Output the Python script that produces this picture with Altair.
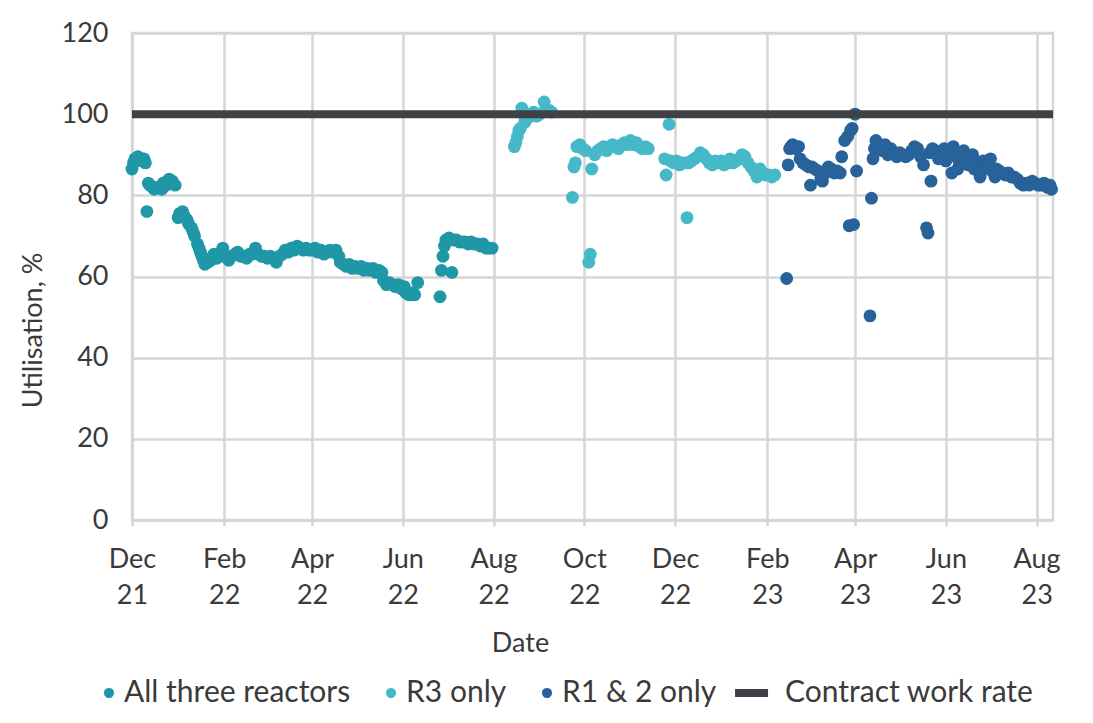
import altair as alt
import pandas as pd

# ---------------- data ----------------
all_three = [
    ("2021-12-01", 86.5), ("2021-12-02", 88), ("2021-12-03", 89), ("2021-12-04", 88.5),
    ("2021-12-05", 89.5), ("2021-12-07", 89), ("2021-12-08", 88.5), ("2021-12-09", 89),
    ("2021-12-10", 88), ("2021-12-11", 76), ("2021-12-12", 83), ("2021-12-13", 82.5),
    ("2021-12-15", 82), ("2021-12-16", 81.5), ("2021-12-18", 82), ("2021-12-20", 82),
    ("2021-12-21", 81.5), ("2021-12-22", 83), ("2021-12-24", 82.5), ("2021-12-25", 83.5),
    ("2021-12-26", 84), ("2021-12-27", 83.5), ("2021-12-28", 83.5), ("2021-12-30", 82.5),
    ("2022-01-01", 74.5), ("2022-01-02", 75.5), ("2022-01-03", 75), ("2022-01-04", 76),
    ("2022-01-05", 75), ("2022-01-07", 74), ("2022-01-08", 73), ("2022-01-10", 72),
    ("2022-01-11", 71), ("2022-01-12", 70), ("2022-01-14", 68), ("2022-01-15", 67),
    ("2022-01-16", 66), ("2022-01-17", 65), ("2022-01-18", 64), ("2022-01-19", 63),
    ("2022-01-21", 63.5), ("2022-01-23", 64), ("2022-01-24", 64.5), ("2022-01-25", 65.5),
    ("2022-01-27", 64.5), ("2022-01-29", 65), ("2022-01-31", 67),
    ("2022-02-02", 65), ("2022-02-04", 64), ("2022-02-06", 65), ("2022-02-08", 65.5),
    ("2022-02-10", 66), ("2022-02-12", 65), ("2022-02-14", 65), ("2022-02-16", 64.5),
    ("2022-02-18", 65.5), ("2022-02-20", 65.5), ("2022-02-22", 67), ("2022-02-24", 65.5),
    ("2022-02-26", 65), ("2022-02-28", 65),
    ("2022-03-02", 64.5), ("2022-03-04", 65), ("2022-03-06", 64.5), ("2022-03-08", 63.5),
    ("2022-03-10", 65), ("2022-03-12", 65.5), ("2022-03-14", 66.5), ("2022-03-16", 66),
    ("2022-03-18", 67), ("2022-03-20", 66.5), ("2022-03-22", 67.5), ("2022-03-24", 67),
    ("2022-03-26", 66.5), ("2022-03-28", 67), ("2022-03-30", 66.5),
    ("2022-04-01", 66.5), ("2022-04-03", 67), ("2022-04-05", 66), ("2022-04-07", 66.5),
    ("2022-04-09", 65.5), ("2022-04-11", 66), ("2022-04-13", 66.5), ("2022-04-15", 66),
    ("2022-04-17", 66.5), ("2022-04-19", 65), ("2022-04-20", 63.5), ("2022-04-22", 63),
    ("2022-04-24", 62.5), ("2022-04-26", 63), ("2022-04-28", 62), ("2022-04-30", 62.5),
    ("2022-05-02", 62), ("2022-05-04", 62.5), ("2022-05-06", 61.5), ("2022-05-08", 62),
    ("2022-05-10", 61.5), ("2022-05-12", 62), ("2022-05-14", 61), ("2022-05-16", 61.5),
    ("2022-05-18", 61), ("2022-05-19", 59), ("2022-05-21", 58), ("2022-05-23", 58.5),
    ("2022-05-25", 58), ("2022-05-27", 57.5), ("2022-05-29", 58), ("2022-05-31", 57),
    ("2022-06-02", 57.5), ("2022-06-03", 56), ("2022-06-05", 55.5), ("2022-06-07", 55.5),
    ("2022-06-08", 56), ("2022-06-09", 55.5), ("2022-06-11", 58.5),
    ("2022-06-26", 55), ("2022-06-27", 61.5), ("2022-06-28", 65), ("2022-06-29", 67.5),
    ("2022-06-30", 69), ("2022-07-02", 69.5), ("2022-07-04", 61), ("2022-07-05", 69),
    ("2022-07-07", 69), ("2022-07-09", 68.5), ("2022-07-11", 68.5), ("2022-07-13", 68.5),
    ("2022-07-15", 68), ("2022-07-17", 68.5), ("2022-07-19", 68), ("2022-07-21", 68),
    ("2022-07-23", 67.5), ("2022-07-25", 68), ("2022-07-27", 67), ("2022-07-29", 67),
    ("2022-07-31", 67),
]

r3_only = [
    ("2022-08-15", 92), ("2022-08-16", 93), ("2022-08-17", 94.5), ("2022-08-18", 96),
    ("2022-08-19", 96.5), ("2022-08-20", 101.5), ("2022-08-21", 100), ("2022-08-22", 98),
    ("2022-08-24", 99), ("2022-08-26", 100), ("2022-08-28", 100.5), ("2022-08-30", 99.5),
    ("2022-09-01", 100), ("2022-09-04", 103), ("2022-09-05", 101), ("2022-09-07", 101),
    ("2022-09-09", 100.5),
    ("2022-09-23", 79.5), ("2022-09-24", 87), ("2022-09-25", 88), ("2022-09-26", 92),
    ("2022-09-28", 92.5), ("2022-09-30", 91.5), ("2022-10-02", 91), ("2022-10-04", 63.5),
    ("2022-10-05", 65.5), ("2022-10-06", 86.5), ("2022-10-08", 90), ("2022-10-10", 91),
    ("2022-10-12", 91.5), ("2022-10-14", 92), ("2022-10-16", 91), ("2022-10-18", 92),
    ("2022-10-20", 92.5), ("2022-10-22", 92), ("2022-10-24", 91.5), ("2022-10-26", 92.5),
    ("2022-10-28", 93), ("2022-10-30", 92.5), ("2022-11-01", 93.5), ("2022-11-03", 92.5),
    ("2022-11-05", 93), ("2022-11-07", 92), ("2022-11-09", 91.5), ("2022-11-11", 92),
    ("2022-11-13", 91.5),
    ("2022-11-24", 89), ("2022-11-25", 85), ("2022-11-27", 97.5), ("2022-11-28", 88.5),
    ("2022-11-30", 88), ("2022-12-02", 88.5), ("2022-12-04", 87.5), ("2022-12-06", 88),
    ("2022-12-08", 88), ("2022-12-09", 74.5), ("2022-12-10", 88), ("2022-12-12", 88.5),
    ("2022-12-14", 89), ("2022-12-16", 89.5), ("2022-12-18", 90.5), ("2022-12-20", 90),
    ("2022-12-22", 89), ("2022-12-24", 88), ("2022-12-26", 87.5), ("2022-12-28", 88.5),
    ("2022-12-30", 88), ("2023-01-01", 88.5), ("2023-01-03", 87.5), ("2023-01-05", 88),
    ("2023-01-07", 89), ("2023-01-09", 88), ("2023-01-11", 88.5), ("2023-01-13", 89),
    ("2023-01-15", 90), ("2023-01-17", 89.5), ("2023-01-19", 88), ("2023-01-21", 87),
    ("2023-01-23", 86), ("2023-01-25", 84.5), ("2023-01-27", 86.5), ("2023-01-29", 85.5),
    ("2023-01-31", 85), ("2023-02-02", 85), ("2023-02-04", 84.5), ("2023-02-06", 85),
]

r12_only = [
    ("2023-02-14", 59.5), ("2023-02-15", 87.5), ("2023-02-16", 91.5), ("2023-02-17", 92),
    ("2023-02-18", 92.5), ("2023-02-20", 91.5), ("2023-02-22", 92), ("2023-02-23", 89),
    ("2023-02-25", 88), ("2023-02-27", 87.5), ("2023-03-01", 87), ("2023-03-02", 82.5),
    ("2023-03-03", 87), ("2023-03-05", 86.5), ("2023-03-07", 86), ("2023-03-09", 84),
    ("2023-03-10", 83.5), ("2023-03-12", 85.5), ("2023-03-14", 87), ("2023-03-16", 86.5),
    ("2023-03-18", 85.5), ("2023-03-20", 86), ("2023-03-22", 85.5), ("2023-03-23", 89.5),
    ("2023-03-25", 93.5), ("2023-03-27", 94.5), ("2023-03-28", 72.5), ("2023-03-29", 96),
    ("2023-03-30", 96.5), ("2023-03-31", 72.8), ("2023-04-01", 100), ("2023-04-02", 86),
    ("2023-04-11", 50.3), ("2023-04-12", 79.3), ("2023-04-13", 89), ("2023-04-14", 91.5),
    ("2023-04-15", 93.5), ("2023-04-17", 92), ("2023-04-19", 91), ("2023-04-21", 92.5),
    ("2023-04-23", 90), ("2023-04-25", 91.5), ("2023-04-27", 90.5), ("2023-04-29", 89.5),
    ("2023-05-01", 90.5), ("2023-05-03", 90), ("2023-05-05", 89.5), ("2023-05-07", 90),
    ("2023-05-09", 91), ("2023-05-11", 92), ("2023-05-13", 91.5), ("2023-05-15", 89.5),
    ("2023-05-17", 87.5), ("2023-05-19", 72), ("2023-05-20", 70.7), ("2023-05-21", 90.5),
    ("2023-05-22", 83.5), ("2023-05-23", 91.5), ("2023-05-25", 91), ("2023-05-27", 89),
    ("2023-05-29", 90), ("2023-05-31", 91.5), ("2023-06-01", 88.5), ("2023-06-02", 91),
    ("2023-06-03", 90), ("2023-06-05", 85.5), ("2023-06-06", 92), ("2023-06-08", 89.5),
    ("2023-06-09", 86.5), ("2023-06-10", 88), ("2023-06-12", 89.5), ("2023-06-13", 91),
    ("2023-06-14", 88), ("2023-06-16", 87.5), ("2023-06-18", 88.5), ("2023-06-19", 90),
    ("2023-06-20", 86.5), ("2023-06-22", 88), ("2023-06-24", 84.5), ("2023-06-25", 86),
    ("2023-06-26", 88.5), ("2023-06-28", 87), ("2023-06-30", 87.5), ("2023-07-01", 89),
    ("2023-07-02", 86), ("2023-07-04", 84.5), ("2023-07-05", 86.5), ("2023-07-07", 86),
    ("2023-07-09", 85.5), ("2023-07-11", 85), ("2023-07-13", 85.5), ("2023-07-15", 84.5),
    ("2023-07-17", 84.5), ("2023-07-19", 84), ("2023-07-21", 83), ("2023-07-23", 82.5),
    ("2023-07-25", 83), ("2023-07-27", 82.5), ("2023-07-29", 83.5), ("2023-07-31", 83),
    ("2023-08-02", 82.5), ("2023-08-04", 82.5), ("2023-08-06", 83), ("2023-08-08", 82),
    ("2023-08-10", 82.5), ("2023-08-11", 81.5),
]

contract_rate = [100]

series_names = ["All three reactors", "R3 only", "R1 & 2 only", "Contract work rate"]
series_colors = ["#1f97a7", "#46b9c9", "#27629a", "#3e4145"]
y_ticks = [0, 20, 40, 60, 80, 100, 120]
x_tick_months = [(2021, 12), (2022, 2), (2022, 4), (2022, 6), (2022, 8), (2022, 10),
                 (2022, 12), (2023, 2), (2023, 4), (2023, 6), (2023, 8)]

# ---------------- tables ----------------
rows = []
for name, pts in zip(series_names[:3], [all_three, r3_only, r12_only]):
    for d, v in pts:
        rows.append({"date": d, "value": v, "series": name})
points_df = pd.DataFrame(rows)
contract_df = pd.DataFrame({"value": contract_rate})
legend_df = pd.DataFrame({"series": series_names})

FONT = "Lato"
TXT = "#3a3a3a"
GRID = "#d6d6d6"

# legend glyphs, drawn inside the 24px legend symbol slot (unit = 12px)
dot_path = "M1,0A0.4167,0.4167 0 1,1 0.1667,0A0.4167,0.4167 0 1,1 1,0Z"
bar_path = "M-2.33,-0.333L0.42,-0.333L0.42,0.333L-2.33,0.333Z"

x_scale = alt.Scale(
    type="utc",
    domain=[alt.DateTime(year=2021, month=12, date=1, utc=True),
            alt.DateTime(year=2023, month=8, date=12, utc=True)],
)
x_axis = alt.Axis(
    values=[alt.DateTime(year=y, month=m, date=1, utc=True) for y, m in x_tick_months],
    labelExpr="[utcFormat(datum.value, '%b'), utcFormat(datum.value, '%y')]",
    title="Date", labelFlush=False,
    titleX=388, titleY=123, titleAlign="center", titleBaseline="middle",
    labelPadding=20, labelLineHeight=36, tickSize=6,
)
y_axis = alt.Axis(
    values=y_ticks, title="Utilisation, %", ticks=False, labelPadding=24,
    titleX=-99, titleY=297, titleAlign="center", titleBaseline="middle", titleAngle=-90,
)

legend = alt.Legend(
    title=None, orient="none", direction="horizontal", columns=4,
    legendX=-45, legendY=645, labelFontSize=30, labelFont=FONT, labelColor=TXT,
    symbolSize=576, symbolStrokeWidth=0, labelLimit=400, columnPadding=18,
    labelOffset=7,
)

color_scale = alt.Scale(domain=series_names, range=series_colors)

points = alt.Chart(points_df).mark_point(filled=True, size=165, opacity=1).encode(
    x=alt.X("date:T", scale=x_scale, axis=x_axis),
    y=alt.Y("value:Q", scale=alt.Scale(domain=[0, 120]), axis=y_axis),
    color=alt.Color("series:N", scale=color_scale, legend=None),
)

contract = alt.Chart(contract_df).mark_rule(color="#3e4145", strokeWidth=8).encode(
    y=alt.Y("value:Q")
)

legend_layer = alt.Chart(legend_df).mark_point(filled=True, size=0, opacity=1).encode(
    color=alt.Color("series:N", scale=color_scale, legend=legend),
    shape=alt.Shape("series:N",
                    scale=alt.Scale(domain=series_names,
                                    range=[dot_path, dot_path, dot_path, bar_path]),
                    legend=legend),
)

chart = alt.layer(points, contract, legend_layer).resolve_scale(
    color="independent", shape="independent"
).properties(
    width=921, height=487,
    autosize=alt.AutoSizeParams(type="none"),
    padding={"left": 124, "top": 25, "right": 20, "bottom": 190},
).configure_view(
    stroke=GRID, strokeWidth=2.5
).configure_axis(
    labelFont=FONT, labelFontSize=27, labelColor=TXT,
    titleFont=FONT, titleFontSize=27, titleColor=TXT, titleFontWeight="normal",
    grid=True, gridColor=GRID, gridWidth=2.5,
    domainColor=GRID, domainWidth=2.5, tickColor=GRID, tickWidth=2.5,
)

chart.save("out.html", embed_options={"renderer": "svg", "actions": False})
